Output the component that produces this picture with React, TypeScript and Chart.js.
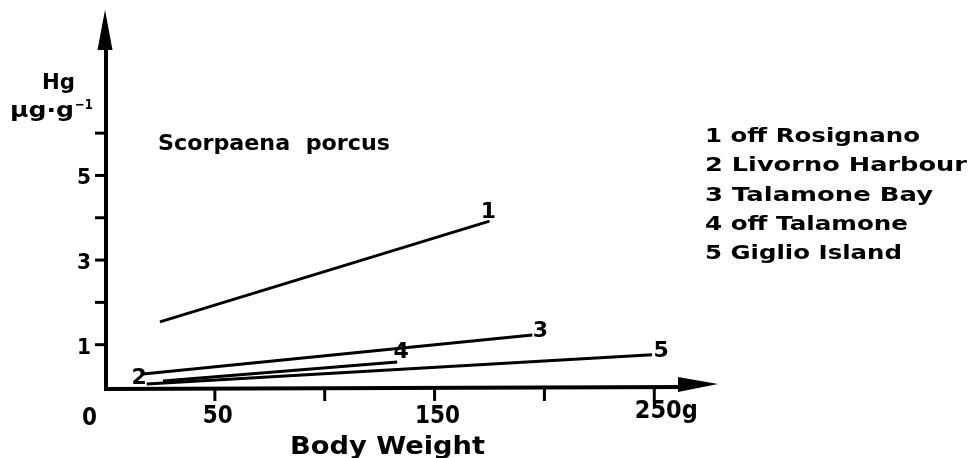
import React, { useEffect, useRef } from 'react';
import { Chart, registerables } from 'chart.js';
Chart.register(...registerables);

// ---- data ----
const seriesNumbers = ['1', '2', '3', '4', '5'];
const seriesNames = ['off Rosignano', 'Livorno Harbour', 'Talamone Bay', 'off Talamone', 'Giglio Island'];
const line1Weight = [25, 175];
const line1Hg = [1.54, 3.92];
const line2Weight = [15.5];
const line2Hg = [0.21];
const line3Weight = [17.3, 194.5];
const line3Hg = [0.31, 1.23];
const line4Weight = [26.4, 133];
const line4Hg = [0.14, 0.59];
const line5Weight = [19, 249];
const line5Hg = [0.07, 0.76];
const xTickValues = [50, 100, 150, 200, 250];
const xTickLabels = ['50', '', '150', '', '250g'];
const yTickValues = [1, 2, 3, 4, 5, 6];
const yTickLabels = ['1', '', '3', '', '5', ''];
const xMax = 279;
const yMax = 8.91;
const titleText = 'Scorpaena  porcus';
const xAxisTitle = 'Body Weight';
const yAxisTitle1 = 'Hg';
const yAxisTitle2 = 'µg·g';
const yAxisTitleSup = '−1';

const FONT = '"DejaVu Sans", "Liberation Sans", sans-serif';

function pts(xs: number[], ys: number[]) {
  return xs.map((v, i) => ({ x: v, y: ys[i] }));
}

function fitText(ctx: CanvasRenderingContext2D, text: string, left: number, baseline: number, width: number, size: number) {
  ctx.font = `bold ${size}px ${FONT}`;
  ctx.textAlign = 'left';
  ctx.textBaseline = 'alphabetic';
  const w = ctx.measureText(text).width;
  const sx = width / w;
  ctx.save();
  ctx.translate(left, baseline);
  ctx.scale(sx, 1);
  ctx.fillText(text, 0, 0);
  ctx.restore();
}

const axesPlugin = {
  id: 'sketchAxes',
  afterDraw(chart: any) {
    const { ctx, scales } = chart;
    const x = scales.x;
    const y = scales.y;
    const x0 = x.getPixelForValue(0);
    const y0 = y.getPixelForValue(0);
    const xEnd = x.getPixelForValue(xMax);
    const yTop = y.getPixelForValue(yMax);
    const axX = x0 + 1;
    const axY = y0 + 2;
    ctx.save();
    ctx.strokeStyle = '#000';
    ctx.fillStyle = '#000';
    ctx.lineCap = 'butt';
    // axes
    ctx.lineWidth = 4;
    ctx.beginPath();
    ctx.moveTo(axX, axY + 2);
    ctx.lineTo(axX, yTop + 30);
    ctx.stroke();
    ctx.beginPath();
    ctx.moveTo(axX - 2, axY);
    ctx.lineTo(xEnd - 30, axY - 2);
    ctx.stroke();
    // arrowheads
    ctx.beginPath();
    ctx.moveTo(axX - 1, yTop);
    ctx.lineTo(axX + 6.5, yTop + 40);
    ctx.lineTo(axX - 8.5, yTop + 40);
    ctx.closePath();
    ctx.fill();
    ctx.beginPath();
    ctx.moveTo(xEnd, axY - 5);
    ctx.lineTo(xEnd - 40, axY + 3);
    ctx.lineTo(xEnd - 40, axY - 12);
    ctx.closePath();
    ctx.fill();
    // ticks
    ctx.lineWidth = 3;
    xTickValues.forEach((v) => {
      const px = x.getPixelForValue(v);
      ctx.beginPath();
      ctx.moveTo(px, axY);
      ctx.lineTo(px, axY + 12);
      ctx.stroke();
    });
    yTickValues.forEach((v) => {
      const py = y.getPixelForValue(v);
      ctx.beginPath();
      ctx.moveTo(axX, py);
      ctx.lineTo(axX - 11, py);
      ctx.stroke();
    });
    // tick labels
    yTickValues.forEach((v, i) => {
      if (!yTickLabels[i]) return;
      const py = y.getPixelForValue(v);
      fitText(ctx, yTickLabels[i], axX - 29, py + 9, 14, 22);
    });
    fitText(ctx, '0', x0 - 23, y0 + 38, 15, 24);
    xTickValues.forEach((v, i) => {
      const t = xTickLabels[i];
      if (!t) return;
      const px = x.getPixelForValue(v);
      const numW = t.replace('g', '').length * 15;
      const totalW = t.endsWith('g') ? numW + 18 : numW;
      const base = t.endsWith('g') ? y0 + 31 : y0 + 36;
      fitText(ctx, t, px - numW / 2 + 3, base, totalW, 24);
    });
    // axis titles
    fitText(ctx, xAxisTitle, 290, 454, 195, 24);
    fitText(ctx, yAxisTitle1, 42, 89, 33, 22);
    fitText(ctx, yAxisTitle2, 10, 117, 64, 21);
    fitText(ctx, yAxisTitleSup, 75, 109, 18, 14);
    // chart title
    fitText(ctx, titleText, 158, 150, 232, 21);
    // legend (numbered key)
    const legendWidths = [215, 262, 228, 203, 197];
    seriesNames.forEach((n, i) => {
      fitText(ctx, seriesNumbers[i] + ' ' + n, 705, 142 + i * 29.3, legendWidths[i], 20);
    });
    // line number labels
    const offsets = [[-1, -9], [0, 0], [8, -4], [4, -10], [9, -4]];
    ctx.font = `bold 22px ${FONT}`;
    ctx.textAlign = 'center';
    ctx.textBaseline = 'middle';
    chart.data.datasets.forEach((ds: any, i: number) => {
      const d = ds.data;
      const p = d[d.length - 1];
      const px = x.getPixelForValue(p.x) + offsets[i][0];
      const py = y.getPixelForValue(p.y) + offsets[i][1];
      ctx.fillText(seriesNumbers[i], px, py);
    });
    ctx.restore();
  },
};

export default function App() {
  const ref = useRef<HTMLCanvasElement | null>(null);
  useEffect(() => {
    if (!ref.current) return;
    const mk = (xs: number[], ys: number[], i: number) => ({
      label: seriesNumbers[i] + ' ' + seriesNames[i],
      data: pts(xs, ys),
      showLine: true,
      borderColor: '#000',
      backgroundColor: '#000',
      borderWidth: 3,
      pointRadius: 0,
      pointHoverRadius: 0,
    });
    const chart = new Chart(ref.current, {
      type: 'scatter',
      data: {
        datasets: [
          mk(line1Weight, line1Hg, 0),
          mk(line2Weight, line2Hg, 1),
          mk(line3Weight, line3Hg, 2),
          mk(line4Weight, line4Hg, 3),
          mk(line5Weight, line5Hg, 4),
        ],
      },
      options: {
        animation: false,
        responsive: true,
        maintainAspectRatio: false,
        layout: { padding: { left: 105, right: 258, top: 10, bottom: 71 } },
        plugins: { legend: { display: false }, title: { display: false }, tooltip: { enabled: false } },
        scales: {
          x: { type: 'linear', min: 0, max: xMax, display: false },
          y: { type: 'linear', min: 0, max: yMax, display: false },
        },
      },
      plugins: [axesPlugin],
    } as any);
    return () => chart.destroy();
  }, []);
  return (
    <div style={{ position: 'absolute', left: 0, top: 0, width: 976, height: 458, background: '#fff' }}>
      <canvas ref={ref} />
    </div>
  );
}
